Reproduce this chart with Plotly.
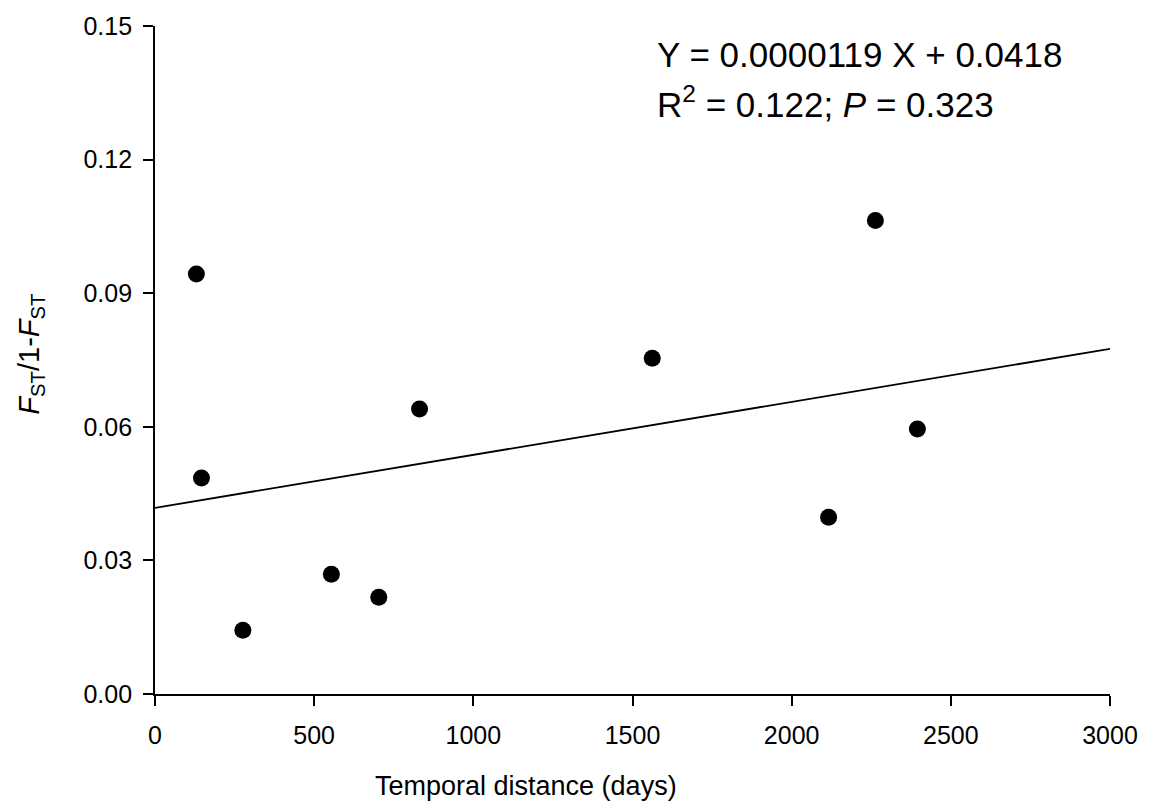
import plotly.graph_objects as go

# Data
days = [130, 146, 276, 554, 703, 831, 1562, 2116, 2263, 2395]
fst_ratio = [0.0943, 0.0485, 0.0143, 0.0269, 0.0217, 0.0640, 0.0754, 0.0397, 0.1063, 0.0595]

slope = 0.0000119
intercept = 0.0418
line_x = [0, 3000]
line_y = [intercept + slope * v for v in line_x]

x_ticks = [0, 500, 1000, 1500, 2000, 2500, 3000]
y_ticks = [0.00, 0.03, 0.06, 0.09, 0.12, 0.15]

FONT = "Liberation Sans, Arial, sans-serif"

fig = go.Figure()
fig.add_trace(go.Scatter(x=line_x, y=line_y, mode="lines",
                         line=dict(color="black", width=1.8), showlegend=False))
fig.add_trace(go.Scatter(x=days, y=fst_ratio, mode="markers",
                         marker=dict(color="black", size=17), showlegend=False))

fig.update_layout(
    width=1150, height=812,
    margin=dict(l=155, r=35, t=22, b=118),
    plot_bgcolor="white", paper_bgcolor="white",
    font=dict(family=FONT, color="black", size=25),
    showlegend=False,
)
fig.update_xaxes(range=[0, 3000], tickvals=x_ticks, showgrid=False, zeroline=False,
                 showline=True, linecolor="black", linewidth=1.8,
                 ticks="outside", ticklen=10, tickwidth=1.8, tickcolor="black",
                 tickfont=dict(size=25), ticklabelstandoff=8)
fig.update_yaxes(range=[0, 0.15], tickvals=y_ticks, tickformat=".2f", showgrid=False,
                 zeroline=False, showline=True, linecolor="black", linewidth=1.8,
                 ticks="outside", ticklen=10, tickwidth=1.8, tickcolor="black",
                 tickfont=dict(size=25), ticklabelstandoff=6)

fig.add_annotation(text="Temporal distance (days)", xref="paper", yref="paper",
                   x=(528 - 155) / 960, y=-(787 - 694) / 672, xanchor="center", yanchor="middle",
                   showarrow=False, font=dict(size=27))
fig.add_annotation(text="<i>F</i><sub>ST</sub>/1-<i>F</i><sub>ST</sub>", xref="paper", yref="paper",
                   x=-(155 - 30) / 960, y=(694 - 352) / 672, xanchor="center", yanchor="middle",
                   textangle=-90, showarrow=False, font=dict(size=29))
fig.add_annotation(text="Y = 0.0000119 X + 0.0418", xref="paper", yref="paper",
                   x=(658 - 155) / 960, y=(694 - 51) / 672, xanchor="left", yanchor="middle",
                   showarrow=False, font=dict(size=35))
fig.add_annotation(text="R<sup>2</sup> = 0.122; <i>P</i> = 0.323", xref="paper", yref="paper",
                   x=(658 - 155) / 960, y=(694 - 98) / 672, xanchor="left", yanchor="middle",
                   showarrow=False, font=dict(size=35))

fig.write_html("out.html")
